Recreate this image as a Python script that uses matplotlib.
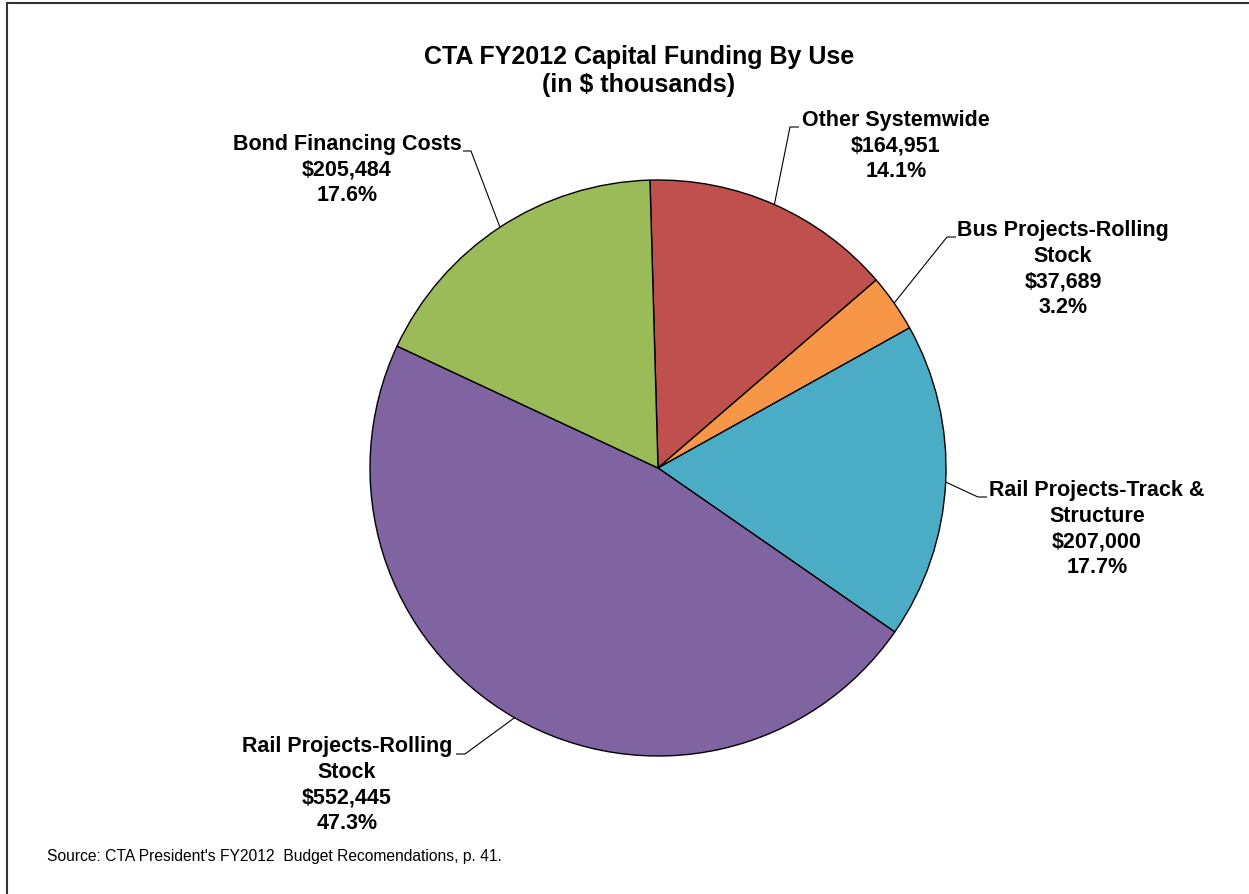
import numpy as np
import matplotlib.pyplot as plt
from matplotlib.patches import Rectangle

plt.rcParams["font.family"] = ["Liberation Sans", "DejaVu Sans"]

categories = [
    "Other Systemwide",
    "Bus Projects-Rolling\nStock",
    "Rail Projects-Track &\nStructure",
    "Rail Projects-Rolling\nStock",
    "Bond Financing Costs",
]
values = [164951, 37689, 207000, 552445, 205484]
colors = ["#C0504D", "#F79646", "#4BACC6", "#8064A2", "#9BBB59"]

W, H = 1249, 895
fig = plt.figure(figsize=(W / 100, H / 100), dpi=100)
ax = fig.add_axes([0, 0, 1, 1])

# pixel coords from the top-left, converted to data y
def py(y):
    return H - y

cx, cy, r = 658, 469, 288
wedges, _ = ax.pie(
    values,
    colors=colors,
    startangle=91.6,
    counterclock=False,
    center=(cx, py(cy)),
    radius=r,
    wedgeprops=dict(edgecolor="black", linewidth=1.0),
)
ax.set_xlim(0, W)
ax.set_ylim(0, H)
ax.set_aspect("equal")
ax.axis("off")

total = sum(values)
# label block centre, elbow, end of leader (pixel coords)
label_pos = [
    ((896, 146), (790, 128), (799, 128)),
    ((1063, 269), (947, 238), (956, 238)),
    ((1097, 529), (978, 498), (987, 498)),
    ((347, 785), (465, 755), (456, 755)),
    ((347, 170), (471, 152), (463, 152)),
]

for w, name, val, (tpos, elbow, end) in zip(wedges, categories, values, label_pos):
    mid = np.deg2rad((w.theta1 + w.theta2) / 2)
    ex = cx + r * np.cos(mid)
    ey = py(cy) + r * np.sin(mid)
    ax.plot([ex, elbow[0], end[0]], [ey, py(elbow[1]), py(end[1])],
            color="black", lw=0.8, solid_capstyle="butt")
    ax.text(tpos[0], py(tpos[1]),
            f"{name}\n${val:,}\n{val / total * 100:.1f}%",
            ha="center", va="center", fontsize=15.5, fontweight="bold",
            linespacing=1.3)

ax.text(639, py(71), "CTA FY2012 Capital Funding By Use\n(in $ thousands)",
        ha="center", va="center", fontsize=18, fontweight="bold",
        linespacing=1.25)

ax.text(47, py(857), "Source: CTA President's FY2012  Budget Recomendations, p. 41.",
        ha="left", va="center", fontsize=11.25)

fig.patches.append(Rectangle((7 / W, -0.05), 1.1, 1 - 4 / H + 0.05,
                             transform=fig.transFigure, fill=False,
                             edgecolor="#333333", lw=1.5))

fig.savefig("out.png", dpi=100)
